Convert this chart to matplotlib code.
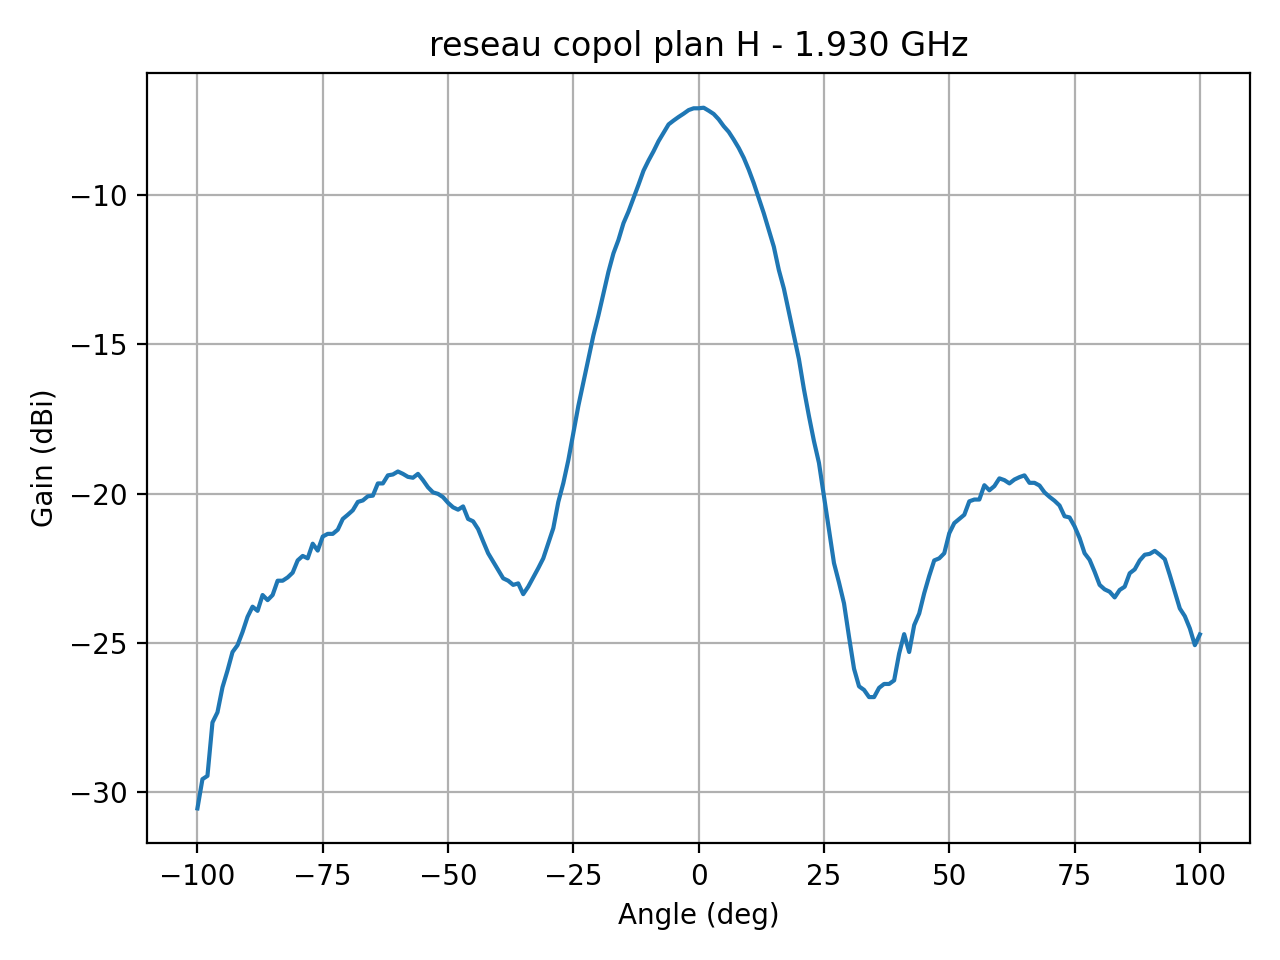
import numpy as np
import matplotlib
matplotlib.use("Agg")
import matplotlib.pyplot as plt

# angle grid, one sample per degree
angles = np.arange(-100, 101, 1)

gain = [
    -30.55, -29.57, -29.46, -27.67, -27.33, -26.49, -25.93, -25.31, -25.08, -24.64,
    -24.13, -23.79, -23.93, -23.40, -23.57, -23.40, -22.92, -22.92, -22.81, -22.65,
    -22.24, -22.09, -22.17, -21.68, -21.91, -21.44, -21.35, -21.35, -21.21, -20.85,
    -20.71, -20.56, -20.28, -20.23, -20.09, -20.07, -19.66, -19.66, -19.39, -19.36,
    -19.26, -19.34, -19.44, -19.47, -19.34, -19.55, -19.79, -19.96, -20.01, -20.12,
    -20.31, -20.46, -20.54, -20.43, -20.85, -20.93, -21.19, -21.60, -22.00, -22.28,
    -22.56, -22.84, -22.92, -23.06, -23.01, -23.37, -23.12, -22.81, -22.50, -22.17,
    -21.66, -21.16, -20.28, -19.65, -18.88, -17.98, -17.06, -16.27, -15.49, -14.70,
    -14.03, -13.30, -12.57, -11.95, -11.50, -10.94, -10.55, -10.10, -9.65, -9.18,
    -8.84, -8.53, -8.19, -7.91, -7.63, -7.50, -7.38, -7.27, -7.15, -7.09,
    -7.09, -7.07, -7.17, -7.28, -7.46, -7.69, -7.88, -8.14, -8.42, -8.75,
    -9.15, -9.60, -10.10, -10.61, -11.17, -11.73, -12.51, -13.13, -13.92, -14.70,
    -15.49, -16.50, -17.40, -18.24, -18.97, -20.10, -21.21, -22.33, -22.98, -23.68,
    -24.80, -25.87, -26.46, -26.58, -26.82, -26.82, -26.51, -26.38, -26.38, -26.26,
    -25.36, -24.71, -25.31, -24.41, -24.02, -23.34, -22.76, -22.24, -22.17, -22.00,
    -21.33, -20.99, -20.85, -20.71, -20.26, -20.20, -20.20, -19.72, -19.89, -19.75,
    -19.49, -19.55, -19.66, -19.53, -19.45, -19.39, -19.64, -19.64, -19.73, -19.96,
    -20.11, -20.24, -20.40, -20.76, -20.80, -21.10, -21.49, -22.00, -22.22, -22.62,
    -23.06, -23.21, -23.29, -23.48, -23.23, -23.12, -22.67, -22.54, -22.24, -22.05,
    -22.02, -21.92, -22.05, -22.20, -22.73, -23.29, -23.85, -24.11, -24.52, -25.08,
    -24.72,
]

fig, ax = plt.subplots(figsize=(6.4, 4.8), dpi=200)
ax.plot(angles, gain)
ax.set_title("reseau copol plan H - 1.930 GHz")
ax.set_xlabel("Angle (deg)")
ax.set_ylabel("Gain (dBi)")
ax.grid(True)
fig.tight_layout()
fig.savefig("out.png")
